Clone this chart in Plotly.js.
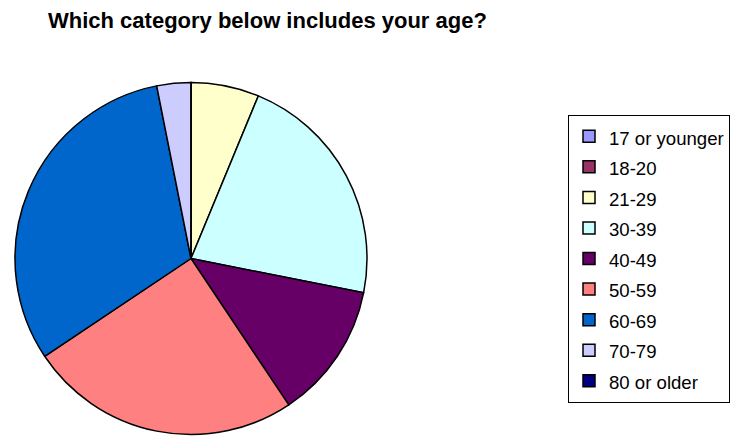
<!DOCTYPE html>
<html>
<head>
<meta charset="utf-8">
<script src="https://cdn.plot.ly/plotly-3.0.1.min.js"></script>
<style>html,body{margin:0;padding:0;background:#fff;}#chart{width:738px;height:438px;}</style>
</head>
<body>
<div id="chart"></div>
<script>
const categories = ["17 or younger", "18-20", "21-29", "30-39", "40-49", "50-59", "60-69", "70-79", "80 or older"];
const counts = [0, 0, 2, 7, 4, 8, 10, 1, 0];
const colors = ["#9999FF", "#993366", "#FFFFCC", "#CCFFFF", "#660066", "#FF8080", "#0066CC", "#CCCCFF", "#000080"];
const titleText = "Which category below includes your age?";

const W = 738, H = 438;
const FONT = "Arial, 'Liberation Sans', sans-serif";

const trace = {
  type: "pie",
  labels: categories.map(c => '<span style="font-size:18.6px">' + c + '</span>'),
  values: counts,
  marker: { colors: colors, line: { color: "#000000", width: 1.5 } },
  sort: false,
  direction: "clockwise",
  rotation: 0,
  textinfo: "none",
  hoverinfo: "label+value+percent",
  domain: { x: [15 / W, 367 / W], y: [1 - 435 / H, 1 - 82 / H] }
};

const layout = {
  width: W, height: H,
  margin: { l: 0, r: 0, t: 0, b: 0 },
  paper_bgcolor: "#ffffff",
  font: { family: FONT, color: "#000000" },
  title: {
    text: "<b>" + titleText + "</b>",
    font: { family: FONT, size: 22, color: "#000000" },
    xref: "container", yref: "container",
    x: 48 / W, xanchor: "left",
    y: 1 - 20 / H, yanchor: "middle"
  },
  showlegend: true,
  legend: {
    x: 568 / W, xanchor: "left",
    y: 1 - 115 / H, yanchor: "top",
    bgcolor: "#ffffff",
    bordercolor: "#000000",
    borderwidth: 1,
    font: { family: FONT, size: 21.2, color: "#000000" },
    traceorder: "normal"
  }
};

Plotly.newPlot("chart", [trace], layout, { displayModeBar: false, staticPlot: true });
</script>
</body>
</html>
